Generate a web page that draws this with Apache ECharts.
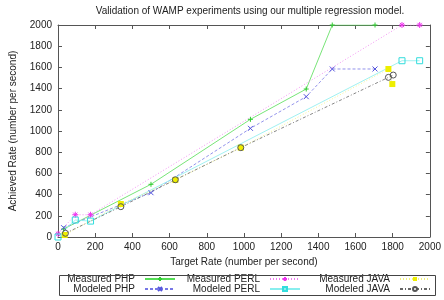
<!DOCTYPE html>
<html><head><meta charset="utf-8">
<script src="https://cdn.jsdelivr.net/npm/echarts@6/dist/echarts.min.js"></script>
<style>html,body{margin:0;padding:0;background:#fff}#c{width:444px;height:300px}</style>
</head><body><div id="c"></div>
<script>
var titleText = "Validation of WAMP experiments using our multiple regression model.";
var xTicks = [0,200,400,600,800,1000,1200,1400,1600,1800,2000];
var yTicks = [0,200,400,600,800,1000,1200,1400,1600,1800,2000];

var measPhpX = [30, 500, 1035, 1335, 1475, 1705];
var measPhpY = [75, 497, 1110, 1396, 2000, 2000];
var modPhpX = [30, 500, 1035, 1335, 1475, 1705];
var modPhpY = [88, 418, 1025, 1324, 1585, 1585];
var measPerlX = [0, 93, 175, 1850, 1945];
var measPerlY = [30, 210, 210, 2000, 2000];
var modPerlX = [0, 93, 175, 1850, 1945];
var modPerlY = [0, 160, 150, 1663, 1663];
var measJavaX = [36, 338, 631, 983, 1777, 1798];
var measJavaY = [19, 311, 538, 843, 1585, 1443];
var modJavaX = [40, 338, 631, 983, 1777, 1803];
var modJavaY = [35, 286, 540, 843, 1506, 1528];

function pts(xs, ys){ return xs.map(function(x,i){return [x, ys[i]];}); }
var FONT = 'Liberation Sans, Arial, sans-serif';
var PLUS = 'path://M5 0 L5 10 M0 5 L10 5';
var CROSS = 'path://M0 0 L10 10 M10 0 L0 10';
var STAR = 'path://M5 0 L5 10 M0 5 L10 5 M1.5 1.5 L8.5 8.5 M8.5 1.5 L1.5 8.5';

var series = [
 {name:'Measured PHP', data: pts(measPhpX, measPhpY), color:'#55dd55', mk:'#33cc33', type:'solid', symbol: PLUS, size:5, open:true},
 {name:'Modeled PHP', data: pts(modPhpX, modPhpY), color:'#7777e6', mk:'#5555dd', type:[3,2], symbol: CROSS, size:5, open:true},
 {name:'Measured PERL', data: pts(measPerlX, measPerlY), color:'#f07cf0', mk:'#ee33ee', type:[1,2], symbol: STAR, size:6, open:true},
 {name:'Modeled PERL', data: pts(modPerlX, modPerlY), color:'#88eeee', mk:'#33dddd', type:'solid', symbol:'rect', size:6, open:'square'},
 {name:'Measured JAVA', data: pts(measJavaX, measJavaY), color:'#f3f37a', mk:'#eeee00', type:[1,2], symbol:'rect', size:6, open:false},
 {name:'Modeled JAVA', data: pts(modJavaX, modJavaY), color:'#666666', mk:'#555555', type:[3,2,1,2], symbol:'circle', size:6, open:'circle'}
].map(function(s){
  var item;
  if (s.open === true) item = {color: s.mk, borderColor: s.mk, borderWidth: 1};
  else if (s.open) item = {color: 'rgba(255,255,255,0)', borderColor: s.mk, borderWidth: 1};
  else item = {color: s.mk, borderColor: s.mk, borderWidth: 0};
  return {
    name: s.name, type:'line', data: s.data, symbol: s.symbol, symbolSize: s.size,
    showAllSymbol: true, animation:false, clip: true,
    lineStyle:{color: s.color, width:0.8, type: s.type},
    itemStyle: item
  };
});

var legendPos = [
 ['Measured PHP', 268, 274], ['Measured PERL', 143, 274], ['Measured JAVA', 13, 274],
 ['Modeled PHP', 268, 284], ['Modeled PERL', 143, 284], ['Modeled JAVA', 13, 284]
];
var legends = legendPos.map(function(l){
  return {data:[l[0]], right:l[1], top:l[2], align:'right', itemWidth:30, itemHeight:5, itemGap:0, padding:0,
    selectedMode:false, textStyle:{fontFamily:FONT, fontSize:10, color:'#222', padding:[0,5,0,0]}};
});

var axisCommon = {type:'value', min:0, max:2000, interval:200,
  axisLine:{show:true, onZero:false, lineStyle:{color:'#555', width:1}},
  axisTick:{show:true, inside:true, length:4, lineStyle:{color:'#555'}},
  splitLine:{show:false}};

var chart = echarts.init(document.getElementById('c'), null, {renderer:'canvas'});
chart.setOption({
  backgroundColor:'#fff',
  animation:false,
  title:{text:titleText, left:245, textAlign:'center', top:1, textStyle:{fontFamily:FONT, fontSize:10, fontWeight:'normal', color:'#222'}},
  grid:{left:56, right:11, top:25, bottom:63},
  legend: legends,
  xAxis:[
    Object.assign({}, axisCommon, {position:'bottom', name:'Target Rate (number per second)', nameLocation:'middle', nameGap:19,
      nameTextStyle:{fontFamily:FONT, fontSize:10, color:'#222'},
      axisLabel:{fontFamily:FONT, fontSize:10, color:'#222', margin:5, formatter:function(v){return xTicks.indexOf(v)>=0?String(v):'';}}}),
    Object.assign({}, axisCommon, {position:'top', axisLabel:{show:false}})
  ],
  yAxis:[
    Object.assign({}, axisCommon, {position:'left', name:'Achieved Rate (number per second)', nameLocation:'middle', nameGap:40,
      nameTextStyle:{fontFamily:FONT, fontSize:10, color:'#222'},
      axisLabel:{fontFamily:FONT, fontSize:10, color:'#222', margin:6, formatter:function(v){return yTicks.indexOf(v)>=0?String(v):'';}}}),
    Object.assign({}, axisCommon, {position:'right', axisLabel:{show:false}})
  ],
  graphic:[{type:'rect', left:57, top:273, shape:{width:376, height:20}, style:{fill:'none', stroke:'#444', lineWidth:1}, z:100}],
  series: series
});
</script></body></html>
